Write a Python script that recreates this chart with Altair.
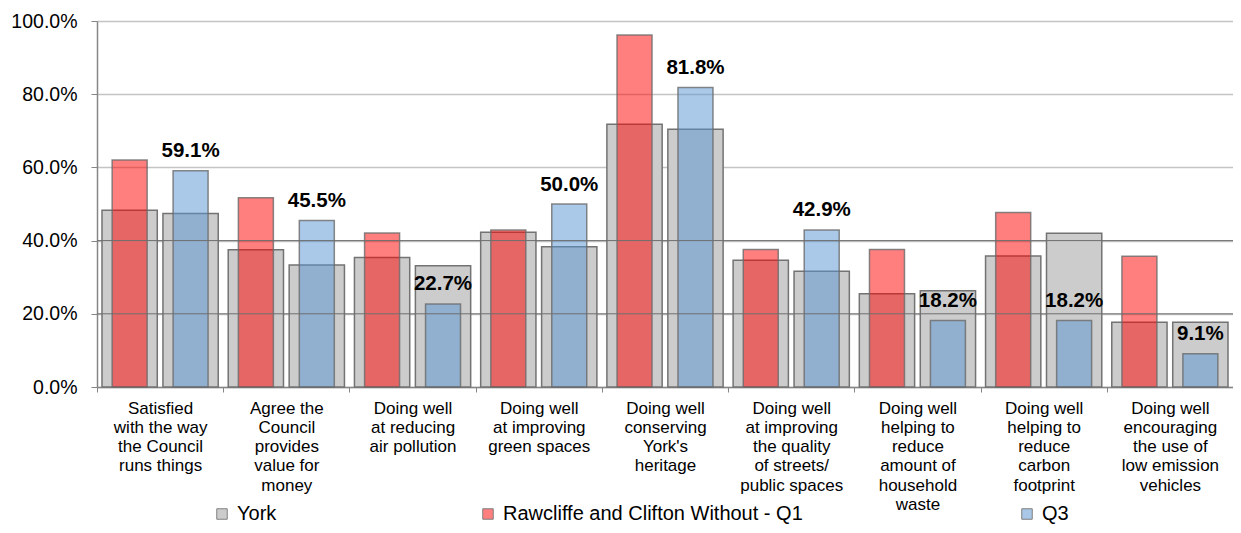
import altair as alt
import pandas as pd

categories = [
    "Satisfied|with the way|the Council|runs things",
    "Agree the|Council|provides|value for|money",
    "Doing well|at reducing|air pollution",
    "Doing well|at improving|green spaces",
    "Doing well|conserving|York's|heritage",
    "Doing well|at improving|the quality|of streets/|public spaces",
    "Doing well|helping to|reduce|amount of|household|waste",
    "Doing well|helping to|reduce|carbon|footprint",
    "Doing well|encouraging|the use of|low emission|vehicles",
]
york_q1 = [48.3, 37.5, 35.4, 42.3, 71.8, 34.6, 25.5, 35.8, 17.7]
york_q3 = [47.4, 33.3, 33.1, 38.3, 70.4, 31.6, 26.3, 42.0, 17.7]
rawcliffe_q1 = [62.0, 51.7, 42.1, 42.9, 96.2, 37.6, 37.6, 47.7, 35.7]
rawcliffe_q3 = [59.1, 45.5, 22.7, 50.0, 81.8, 42.9, 18.2, 18.2, 9.1]
dark_gridlines = [20, 40]

S_YORK = "York"
S_Q1 = "Rawcliffe and Clifton Without - Q1"
S_Q3 = "Q3"
slots = ["Q1", "Q3"]

york_df = pd.DataFrame(
    [{"category": c, "slot": "Q1", "series": S_YORK, "value": v} for c, v in zip(categories, york_q1)]
    + [{"category": c, "slot": "Q3", "series": S_YORK, "value": v} for c, v in zip(categories, york_q3)]
)
q1_df = pd.DataFrame([{"category": c, "slot": "Q1", "series": S_Q1, "value": v} for c, v in zip(categories, rawcliffe_q1)])
q3_df = pd.DataFrame([{"category": c, "slot": "Q3", "series": S_Q3, "value": v} for c, v in zip(categories, rawcliffe_q3)])
grid_df = pd.DataFrame({"value": dark_gridlines})

FONT = "Liberation Sans"

x_enc = alt.X(
    "category:N",
    sort=categories,
    scale=alt.Scale(paddingInner=0, paddingOuter=0),
    axis=alt.Axis(
        title=None,
        labelAngle=0,
        labelExpr="split(datum.label, '|')",
        labelFontSize=17,
        labelLineHeight=19.3,
        labelBaseline="top",
        labelColor="#000000",
        labelFont=FONT,
        labelLimit=300,
        labelPadding=8,
        tickBand="extent",
        tickSize=5,
        tickColor="#868686",
        domainColor="#868686",
        domainWidth=1.5,
    ),
)
xoff = alt.XOffset("slot:N", sort=slots, scale=alt.Scale(domain=slots, paddingInner=0.093, paddingOuter=0.082))
y_enc = alt.Y(
    "value:Q",
    scale=alt.Scale(domain=[0, 100], nice=False),
    axis=alt.Axis(
        title=None,
        values=[0, 20, 40, 60, 80, 100],
        labelExpr="format(datum.value / 100, '.1%')",
        labelFontSize=19.5,
        labelColor="#000000",
        labelFont=FONT,
        labelPadding=14,
        tickSize=6,
        tickColor="#868686",
        domainColor="#868686",
        domainWidth=1.5,
        gridColor="#c4c4c4",
        gridWidth=1.5,
        minExtent=89,
        maxExtent=89,
    ),
)

def legend(x, opacity):
    return alt.Legend(
        title=None,
        orient="none",
        legendX=x,
        legendY=483,
        padding=0,
        symbolType="square",
        symbolSize=110,
        symbolStrokeColor="#000000" if opacity < 1 else "#808080",
        symbolStrokeWidth=1,
        symbolOpacity=opacity,
        labelFontSize=20,
        labelFont=FONT,
        labelColor="#000000",
        labelOffset=5,
        labelLimit=0,
    )

york = alt.Chart(york_df).mark_bar(stroke="#737373", strokeWidth=1.5).encode(
    x=x_enc, xOffset=xoff, y=y_enc,
    color=alt.Color("series:N", scale=alt.Scale(domain=[S_YORK], range=["#cccccc"]), legend=legend(115, 1)),
)
red = alt.Chart(q1_df).mark_bar(
    width=35, fillOpacity=0.5, stroke="#6a6a6a", strokeWidth=1.5, strokeOpacity=0.8
).encode(
    x=x_enc, xOffset=xoff, y=y_enc,
    color=alt.Color("series:N", scale=alt.Scale(domain=[S_Q1], range=["#ff0000"]), legend=legend(381, 0.5)),
)
blue = alt.Chart(q3_df).mark_bar(
    width=35, fillOpacity=0.5, stroke="#6a6a6a", strokeWidth=1.5, strokeOpacity=0.8
).encode(
    x=x_enc, xOffset=xoff, y=y_enc,
    color=alt.Color("series:N", scale=alt.Scale(domain=[S_Q3], range=["#5591d1"]), legend=legend(920, 0.5)),
)
labels = alt.Chart(q3_df).transform_calculate(
    label="format(datum.value / 100, '.1%')"
).mark_text(
    dy=-13.5, baseline="alphabetic", fontSize=20.5, fontWeight="bold", font=FONT, color="#000000"
).encode(
    x=x_enc, xOffset=xoff, y=y_enc,
    text="label:N",
)
dark = alt.Chart(grid_df).mark_rule(color="#6e6e6e", strokeWidth=1).encode(y=y_enc)

chart = alt.layer(york, red, blue, dark, labels).resolve_scale(
    color="independent"
).properties(
    width=1136,
    height=366,
    padding={"left": 89, "top": 13, "right": 0, "bottom": 138},
    autosize="none",
).configure_view(stroke="#c4c4c4", strokeWidth=1.5).configure(font=FONT)

chart.save("out.html", embed_options={"renderer": "svg", "actions": False})
